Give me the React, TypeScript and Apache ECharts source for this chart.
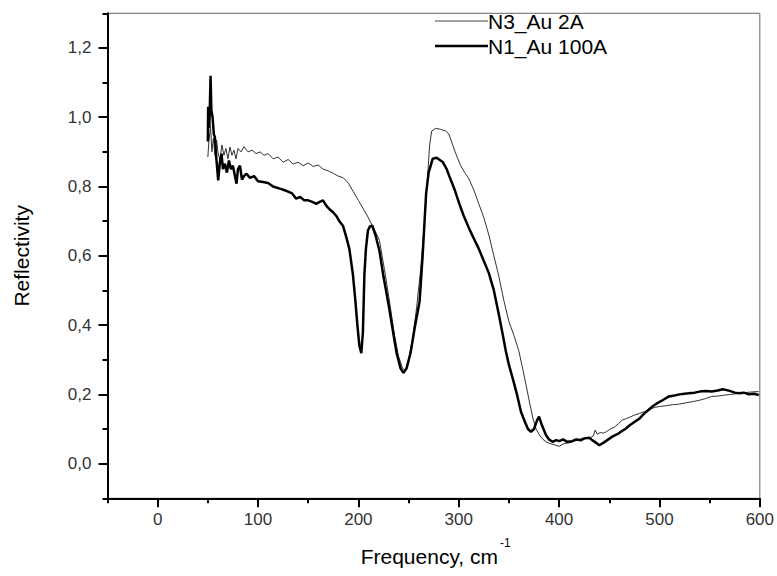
import React, { useEffect, useRef } from "react";
import * as echarts from "echarts";

const N3_FREQ = [
  50, 51, 52.7, 54, 55.5, 57, 58.7, 60, 62, 64, 66, 68, 70, 72, 74, 76, 78, 80, 83, 86, 90, 94, 98, 102, 106, 110,
  115, 120, 125, 130, 135, 140, 145, 150, 155, 160, 165, 170, 175, 180, 185, 190, 195, 200, 205, 209, 213,
  217, 221, 226, 231, 236, 240, 244, 247, 250, 254, 258, 262, 266, 269, 271, 273, 277, 282, 287, 290, 294, 297, 302,
  306, 310, 315, 320, 325, 330, 335, 340, 345, 350, 355, 360, 364, 367, 371, 374, 377, 381, 384, 387, 391, 395, 400,
  405, 410, 413, 418, 422, 426, 430, 434, 436, 438, 441, 444, 447, 451, 455, 459, 463, 467, 471, 475, 480, 485, 490,
  495, 500, 506, 513, 520, 527, 533, 540, 546, 552, 558, 565, 572, 579, 585, 592, 599,
];
const N3_REFL = [
  0.885, 0.93, 0.972, 0.9, 0.94, 0.89, 0.934, 0.9, 0.876, 0.92, 0.89, 0.91, 0.88, 0.914, 0.89, 0.905, 0.88, 0.91, 0.9,
  0.915, 0.9, 0.905, 0.895, 0.9, 0.89, 0.895, 0.88, 0.885, 0.87, 0.878, 0.865, 0.87, 0.86, 0.868, 0.858, 0.862, 0.85,
  0.845, 0.838, 0.83, 0.825, 0.81, 0.785, 0.76, 0.735, 0.715, 0.692, 0.67, 0.644, 0.56, 0.469, 0.37, 0.31,
  0.275, 0.27, 0.3, 0.36, 0.45, 0.56, 0.7, 0.83, 0.92, 0.96, 0.968, 0.965, 0.96, 0.952, 0.92, 0.895, 0.86, 0.84, 0.823,
  0.79, 0.75, 0.71, 0.66, 0.6, 0.54, 0.47, 0.41, 0.37, 0.324, 0.27, 0.228, 0.17, 0.13, 0.1, 0.08, 0.07, 0.063, 0.058,
  0.055, 0.05, 0.058, 0.06, 0.063, 0.068, 0.065, 0.072, 0.073, 0.08, 0.097, 0.085, 0.09, 0.088, 0.092, 0.1, 0.105,
  0.115, 0.126, 0.13, 0.135, 0.14, 0.145, 0.15, 0.157, 0.162, 0.165, 0.167, 0.17, 0.172, 0.176, 0.179, 0.183, 0.188,
  0.194, 0.195, 0.198, 0.2, 0.203, 0.205, 0.207, 0.208,
];

const N1_FREQ = [
  50, 50.3, 51.5, 52.7, 53.5, 54.7, 56, 57, 58.5, 60.3, 62, 63.6, 65, 67, 69, 71, 73, 75, 77, 78.6, 80, 82, 84, 86,
  88.5, 92, 96, 100, 105, 110, 115, 121.6, 126, 130, 134, 138, 142, 146, 150, 154.7, 158, 161, 164.7, 168, 171, 175,
  178, 181, 184.6, 188, 191, 194.5, 197, 199, 201, 202.9, 204.5, 206, 207.5, 209.5, 211.5, 213.8, 217, 221, 225, 230,
  234, 238, 242, 245, 248, 252, 256, 261, 264, 267.5, 270, 274, 278, 284, 288, 291, 296, 300.6, 305, 310.6, 315, 320,
  325, 330, 335, 340, 344, 347, 350, 353.7, 358, 362, 366, 369, 372, 375, 378, 380, 383, 387, 390, 393.5, 397, 400,
  404, 408, 413, 417, 421, 425, 430, 433, 437, 440, 444, 448, 453, 458, 462, 466, 470, 475, 480, 485, 489, 493, 498,
  503, 509.5, 515, 520, 525, 529, 535, 540, 546, 552, 558, 563, 566, 570, 575, 579, 584, 589, 594, 599,
];
const N1_REFL = [
  0.93, 1.03, 0.97, 1.12, 1.02, 1.0, 0.95, 0.943, 0.88, 0.818, 0.87, 0.895, 0.85, 0.866, 0.84, 0.875, 0.85, 0.86, 0.83,
  0.808, 0.85, 0.86, 0.82, 0.83, 0.837, 0.825, 0.83, 0.815, 0.813, 0.81, 0.8, 0.794, 0.79, 0.785, 0.78, 0.765, 0.77,
  0.76, 0.76, 0.755, 0.75, 0.755, 0.76, 0.745, 0.735, 0.725, 0.715, 0.7, 0.687, 0.653, 0.62, 0.547, 0.47, 0.4, 0.34,
  0.319, 0.38, 0.547, 0.62, 0.673, 0.685, 0.687, 0.66, 0.614, 0.54, 0.46, 0.39, 0.32, 0.275, 0.262, 0.275, 0.32, 0.39,
  0.469, 0.6, 0.78, 0.84, 0.88, 0.883, 0.871, 0.85, 0.827, 0.79, 0.75, 0.715, 0.677, 0.65, 0.62, 0.585, 0.55, 0.5,
  0.43, 0.37, 0.324, 0.285, 0.247, 0.2, 0.15, 0.12, 0.1, 0.092, 0.1, 0.125, 0.136, 0.11, 0.082, 0.07, 0.063, 0.068,
  0.065, 0.07, 0.063, 0.065, 0.07, 0.068, 0.073, 0.075, 0.068, 0.06, 0.053, 0.06, 0.068, 0.078, 0.085, 0.093, 0.1,
  0.11, 0.12, 0.13, 0.145, 0.155, 0.165, 0.175, 0.183, 0.194, 0.197, 0.2, 0.202, 0.203, 0.205, 0.208, 0.21, 0.208,
  0.211, 0.215, 0.213, 0.21, 0.205, 0.203, 0.205, 0.2, 0.202, 0.198,
];

const SERIES_NAMES = ["N3_Au 2A", "N1_Au 100A"];
const X_TICKS = [0, 100, 200, 300, 400, 500, 600];
const Y_TICKS = [0, 0.2, 0.4, 0.6, 0.8, 1.0, 1.2];

const FONT = "'Liberation Sans', Arial, sans-serif";

export default function App() {
  const ref = useRef<HTMLDivElement>(null);
  useEffect(() => {
    if (!ref.current) return;
    const chart = echarts.init(ref.current, undefined, { renderer: "svg" });
    const axisLineStyle = { color: "#000", width: 2 };
    const tickStyle = { color: "#000", width: 2 };
    const legendRows = [
      { name: SERIES_NAMES[0], y: 21, color: "#444", width: 1 },
      { name: SERIES_NAMES[1], y: 46, color: "#000", width: 2.5 },
    ];
    const legendGraphics: any[] = [];
    legendRows.forEach((r) => {
      legendGraphics.push({
        type: "line",
        shape: { x1: 435, y1: r.y, x2: 488, y2: r.y },
        style: { stroke: r.color, lineWidth: r.width },
      });
      legendGraphics.push({
        type: "text",
        x: 488,
        y: r.y,
        style: {
          text: r.name,
          fontSize: 21,
          fontFamily: FONT,
          fill: "#000",
          align: "left",
          verticalAlign: "middle",
        },
      });
    });
    chart.setOption({
      animation: false,
      backgroundColor: "#fff",
      grid: {
        left: 107.5,
        right: 15.5,
        top: 13.3,
        bottom: 77.7,
        show: true,
        borderColor: "#666",
        borderWidth: 1,
      },
      xAxis: [
        {
          type: "value",
          min: -50,
          max: 600,
          interval: 50,
          position: "bottom",
          axisLine: { show: true, onZero: false, lineStyle: axisLineStyle },
          axisTick: { show: true, length: 5, lineStyle: tickStyle },
          axisLabel: {
            customValues: X_TICKS,
            margin: 13,
            color: "#333",
            fontSize: 17,
            fontFamily: FONT,
          },
          splitLine: { show: false },
        },
        {
          type: "value",
          min: -50,
          max: 600,
          position: "bottom",
          axisLine: { show: false, onZero: false },
          axisTick: { show: true, customValues: X_TICKS, length: 9, lineStyle: tickStyle },
          axisLabel: { show: false },
          splitLine: { show: false },
        },
      ],
      yAxis: [
        {
          type: "value",
          min: -0.1,
          max: 1.3,
          interval: 0.1,
          position: "left",
          name: "Reflectivity",
          nameLocation: "middle",
          nameRotate: 90,
          nameGap: 76,
          nameTextStyle: { fontSize: 21, color: "#000", fontFamily: FONT },
          axisLine: { show: true, onZero: false, lineStyle: axisLineStyle },
          axisTick: { show: true, length: 5, lineStyle: tickStyle },
          axisLabel: {
            customValues: Y_TICKS,
            margin: 16,
            color: "#333",
            fontSize: 17,
            fontFamily: FONT,
            formatter: (v: number) => v.toFixed(1).replace(".", ","),
          },
          splitLine: { show: false },
        },
        {
          type: "value",
          min: -0.1,
          max: 1.3,
          position: "left",
          axisLine: { show: false, onZero: false },
          axisTick: { show: true, customValues: Y_TICKS, length: 9, lineStyle: tickStyle },
          axisLabel: { show: false },
          splitLine: { show: false },
        },
      ],
      graphic: [
        ...legendGraphics,
        {
          type: "text",
          x: 498,
          y: 556,
          style: {
            text: "Frequency, cm",
            fontSize: 21,
            fontFamily: FONT,
            fill: "#000",
            align: "right",
            verticalAlign: "middle",
          },
        },
        {
          type: "text",
          x: 500,
          y: 543,
          style: {
            text: "-1",
            fontSize: 12,
            fontFamily: FONT,
            fill: "#000",
            align: "left",
            verticalAlign: "middle",
          },
        },
      ],
      series: [
        {
          type: "line",
          name: SERIES_NAMES[0],
          xAxisIndex: 0,
          yAxisIndex: 0,
          symbol: "none",
          data: N3_FREQ.map((f, i) => [f, N3_REFL[i]]),
          lineStyle: { color: "#333", width: 1 },
          itemStyle: { color: "#333" },
        },
        {
          type: "line",
          name: SERIES_NAMES[1],
          xAxisIndex: 0,
          yAxisIndex: 0,
          symbol: "none",
          data: N1_FREQ.map((f, i) => [f, N1_REFL[i]]),
          lineStyle: { color: "#000", width: 2.5 },
          itemStyle: { color: "#000" },
        },
      ],
    });
    return () => chart.dispose();
  }, []);
  return (
    <div
      ref={ref}
      style={{ position: "fixed", left: 0, top: 0, width: 777, height: 576, background: "#fff" }}
    />
  );
}
